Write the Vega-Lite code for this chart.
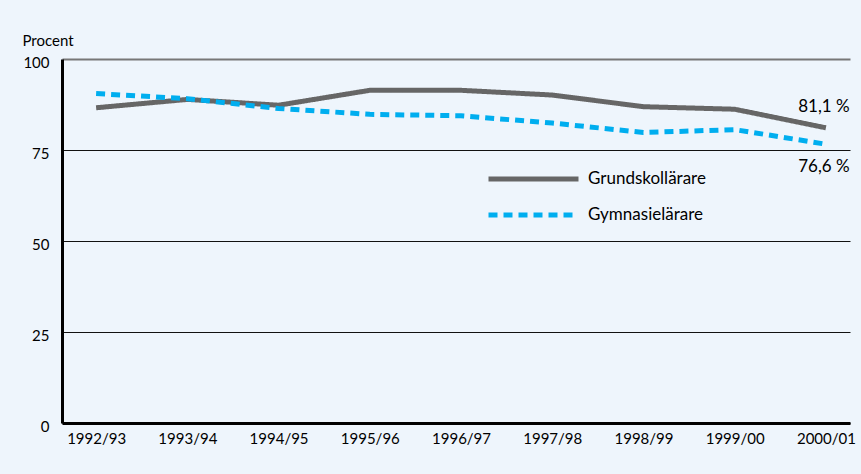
{
  "$schema": "https://vega.github.io/schema/vega-lite/v6.json",
  "width": 788,
  "height": 364,
  "autosize": {"type": "none"},
  "padding": {"left": 62, "top": 59, "right": 11, "bottom": 51},
  "background": "#EEF5FC",
  "config": {
    "font": "Lato",
    "view": {"stroke": null},
    "axis": {"labelFont": "Lato", "titleFont": "Lato", "labelColor": "#000", "titleColor": "#000"},
    "legend": {"labelFont": "Lato"}
  },
  "data": {
    "values": [
      {"start": 1992, "year": "1992/93", "series": "Grundskollärare", "value": 86.6},
      {"start": 1993, "year": "1993/94", "series": "Grundskollärare", "value": 88.9},
      {"start": 1994, "year": "1994/95", "series": "Grundskollärare", "value": 87.3},
      {"start": 1995, "year": "1995/96", "series": "Grundskollärare", "value": 91.4},
      {"start": 1996, "year": "1996/97", "series": "Grundskollärare", "value": 91.4},
      {"start": 1997, "year": "1997/98", "series": "Grundskollärare", "value": 90.1},
      {"start": 1998, "year": "1998/99", "series": "Grundskollärare", "value": 86.9},
      {"start": 1999, "year": "1999/00", "series": "Grundskollärare", "value": 86.2},
      {"start": 2000, "year": "2000/01", "series": "Grundskollärare", "value": 81.1, "label": "81,1 %"},
      {"start": 1992, "year": "1992/93", "series": "Gymnasielärare", "value": 90.5},
      {"start": 1993, "year": "1993/94", "series": "Gymnasielärare", "value": 89.1},
      {"start": 1994, "year": "1994/95", "series": "Gymnasielärare", "value": 86.4},
      {"start": 1995, "year": "1995/96", "series": "Gymnasielärare", "value": 84.8},
      {"start": 1996, "year": "1996/97", "series": "Gymnasielärare", "value": 84.4},
      {"start": 1997, "year": "1997/98", "series": "Gymnasielärare", "value": 82.4},
      {"start": 1998, "year": "1998/99", "series": "Gymnasielärare", "value": 79.8},
      {"start": 1999, "year": "1999/00", "series": "Gymnasielärare", "value": 80.6},
      {"start": 2000, "year": "2000/01", "series": "Gymnasielärare", "value": 76.6, "label": "76,6 %"}
    ]
  },
  "encoding": {
    "x": {
      "field": "start", "type": "quantitative",
      "scale": {"domain": [1991.626, 2000.264], "nice": false, "zero": false},
      "axis": {
        "title": null, "values": [1992, 1993, 1994, 1995, 1996, 1997, 1998, 1999, 2000],
        "labelExpr": "datum.value + '/' + slice(toString(datum.value + 1), 2)",
        "labelFontSize": 15, "labelPadding": 8, "labelFlush": false, "labelOverlap": false,
        "ticks": false, "domainColor": "#000", "domainWidth": 3, "grid": false
      }
    },
    "y": {
      "field": "value", "type": "quantitative",
      "scale": {"domain": [0, 100], "nice": false, "zero": true},
      "axis": {
        "title": "Procent", "titleAngle": 0, "titleAlign": "left", "titleBaseline": "alphabetic",
        "titleX": -40, "titleY": -14, "titleFontSize": 15, "titleFontWeight": "normal",
        "values": [0, 25, 50, 75, 100], "labelFontSize": 15, "labelPadding": 13, "labelOffset": 3,
        "ticks": false, "domainColor": "#000", "domainWidth": 3,
        "grid": true,
        "gridColor": {"condition": {"test": "datum.value === 100", "value": "#777777"}, "value": "#111111"},
        "gridWidth": {"condition": {"test": "datum.value === 100", "value": 2}, "value": 1}
      }
    }
  },
  "layer": [
    {
      "mark": {"type": "line", "strokeWidth": 5, "strokeJoin": "round"},
      "encoding": {
        "color": {
          "field": "series", "type": "nominal",
          "scale": {"domain": ["Grundskollärare", "Gymnasielärare"], "range": ["#666666", "#00AEEF"]},
          "legend": {
            "title": null, "orient": "none", "legendX": 424, "legendY": 110,
            "symbolType": "stroke", "symbolSize": 8100, "symbolStrokeWidth": 5,
            "clipHeight": 20,
            "labelFontSize": 17, "labelColor": "#000", "labelOffset": 7, "rowPadding": 16
          }
        },
        "strokeDash": {
          "field": "series", "type": "nominal",
          "scale": {"domain": ["Grundskollärare", "Gymnasielärare"], "range": [[1, 0], [9, 6]]},
          "legend": null
        }
      }
    },
    {
      "mark": {"type": "text", "fontSize": 17, "align": "center", "color": "#000", "dy": -21, "dx": -2},
      "transform": [{"filter": "datum.series === 'Grundskollärare' && datum.label != null"}],
      "encoding": {"text": {"field": "label"}}
    },
    {
      "mark": {"type": "text", "fontSize": 17, "align": "center", "color": "#000", "dy": 23, "dx": -2},
      "transform": [{"filter": "datum.series === 'Gymnasielärare' && datum.label != null"}],
      "encoding": {"text": {"field": "label"}}
    }
  ]
}
